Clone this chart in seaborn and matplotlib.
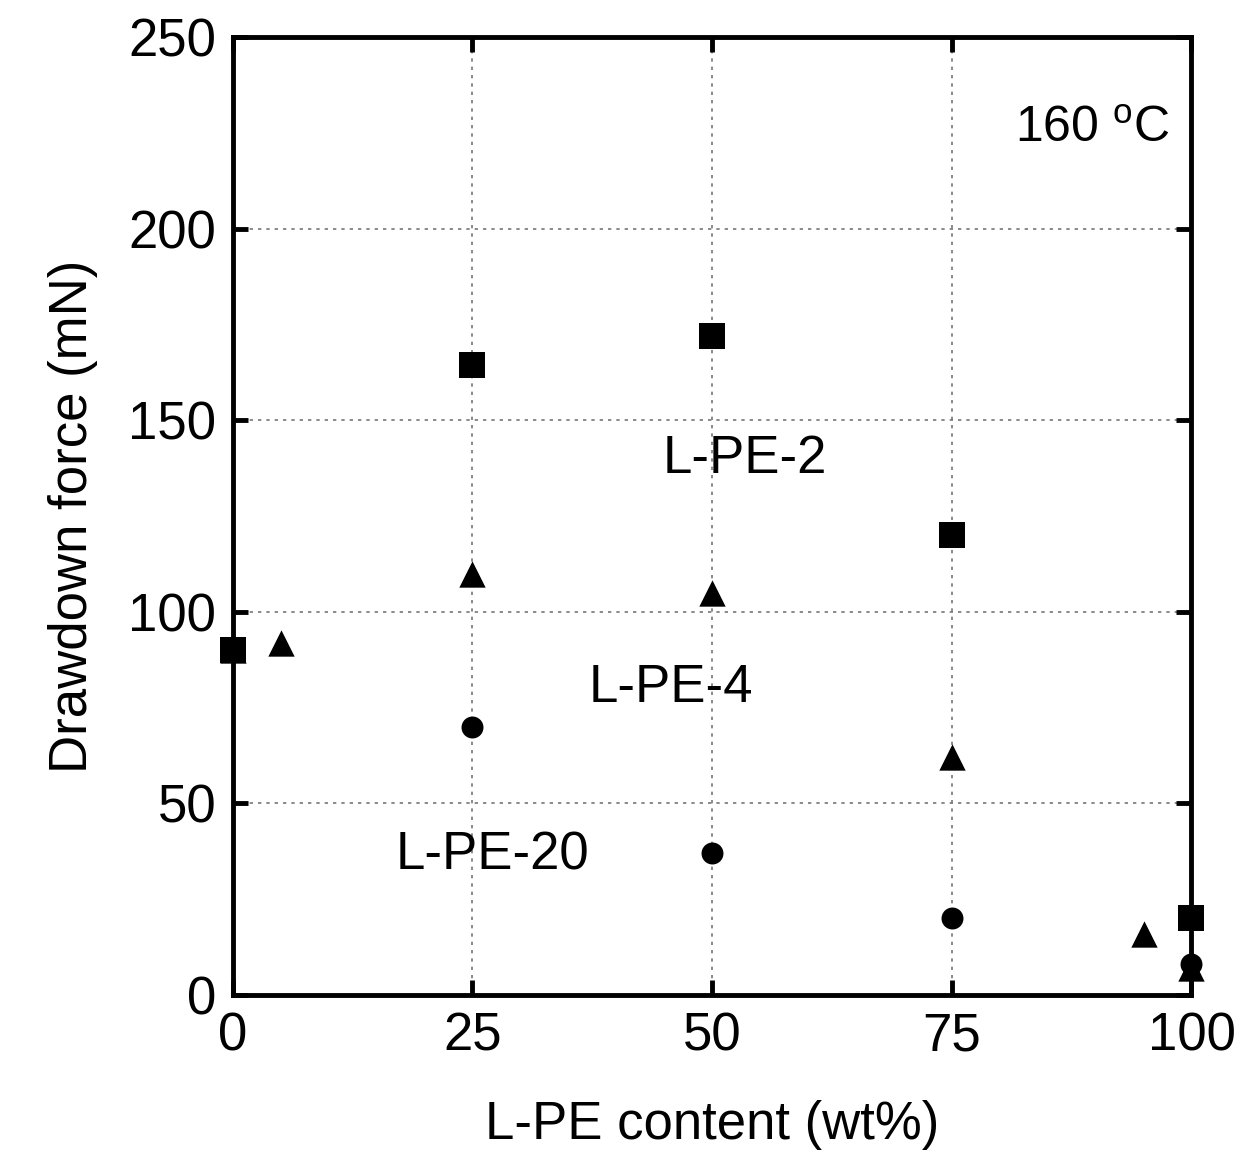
import matplotlib
matplotlib.use("Agg")
import matplotlib.pyplot as plt
import seaborn as sns
import pandas as pd

sns.set_theme(style="white")
plt.rcParams['font.family'] = ['Liberation Sans', 'DejaVu Sans']
plt.rcParams['text.color'] = 'black'
plt.rcParams['axes.labelcolor'] = 'black'
plt.rcParams['xtick.color'] = 'black'
plt.rcParams['ytick.color'] = 'black'

# Data
lpe2_x = [0, 25, 50, 75, 100]
lpe2_y = [90, 164.5, 172, 120, 20]
lpe4_x = [0, 5, 25, 50, 75, 95, 100]
lpe4_y = [90, 92, 110, 105, 62, 16, 7]
lpe20_x = [25, 50, 75, 100]
lpe20_y = [70, 37, 20, 8]

x_ticks = [0, 25, 50, 75, 100]
y_ticks = [0, 50, 100, 150, 200, 250]

df = pd.concat([
    pd.DataFrame({"x": lpe4_x, "y": lpe4_y, "series": "L-PE-4"}),
    pd.DataFrame({"x": lpe20_x, "y": lpe20_y, "series": "L-PE-20"}),
    pd.DataFrame({"x": lpe2_x, "y": lpe2_y, "series": "L-PE-2"}),
], ignore_index=True)

fig = plt.figure(figsize=(12.45, 11.65), dpi=100)
ax = fig.add_axes([0.187, 0.146, 0.770, 0.822])

sizes = {"L-PE-2": 330, "L-PE-4": 360, "L-PE-20": 250}
markers = {"L-PE-2": "s", "L-PE-4": "^", "L-PE-20": "o"}
for name in ["L-PE-4", "L-PE-20", "L-PE-2"]:
    sub = df[df["series"] == name]
    sns.scatterplot(data=sub, x="x", y="y", marker=markers[name], s=sizes[name],
                    color="black", edgecolor="black", linewidth=0, ax=ax,
                    clip_on=False, zorder=5, legend=False)

ax.set_xlim(0, 100)
ax.set_ylim(0, 250)
ax.set_xticks(x_ticks)
ax.set_yticks(y_ticks)
ax.set_xticklabels([str(t) for t in x_ticks])
ax.set_yticklabels([str(t) for t in y_ticks])

ax.grid(True, color="#777777", linestyle=(0, (2, 3)), linewidth=1.2)
for s in ax.spines.values():
    s.set_linewidth(3.5)
    s.set_color("black")
    s.set_zorder(4)

ax.tick_params(axis="both", which="both", direction="in", length=11, width=3.5,
               labelsize=38, top=True, right=True, bottom=True, left=True,
               colors="black", pad=12)

ax.set_xlabel("L-PE content (wt%)", fontsize=38, labelpad=28, color="black")
ax.set_ylabel("Drawdown force (mN)", fontsize=38, labelpad=22, color="black")

ax.text(53.4, 140, "L-PE-2", fontsize=38, ha="center", va="center", color="black")
ax.text(45.7, 80, "L-PE-4", fontsize=38, ha="center", va="center", color="black")
ax.text(27.1, 36.5, "L-PE-20", fontsize=38, ha="center", va="center", color="black")
ax.text(89.7, 226, "160 $\\mathregular{^{o}}$C", fontsize=36, ha="center", va="center",
        color="black")

fig.savefig("out.png", dpi=100)
